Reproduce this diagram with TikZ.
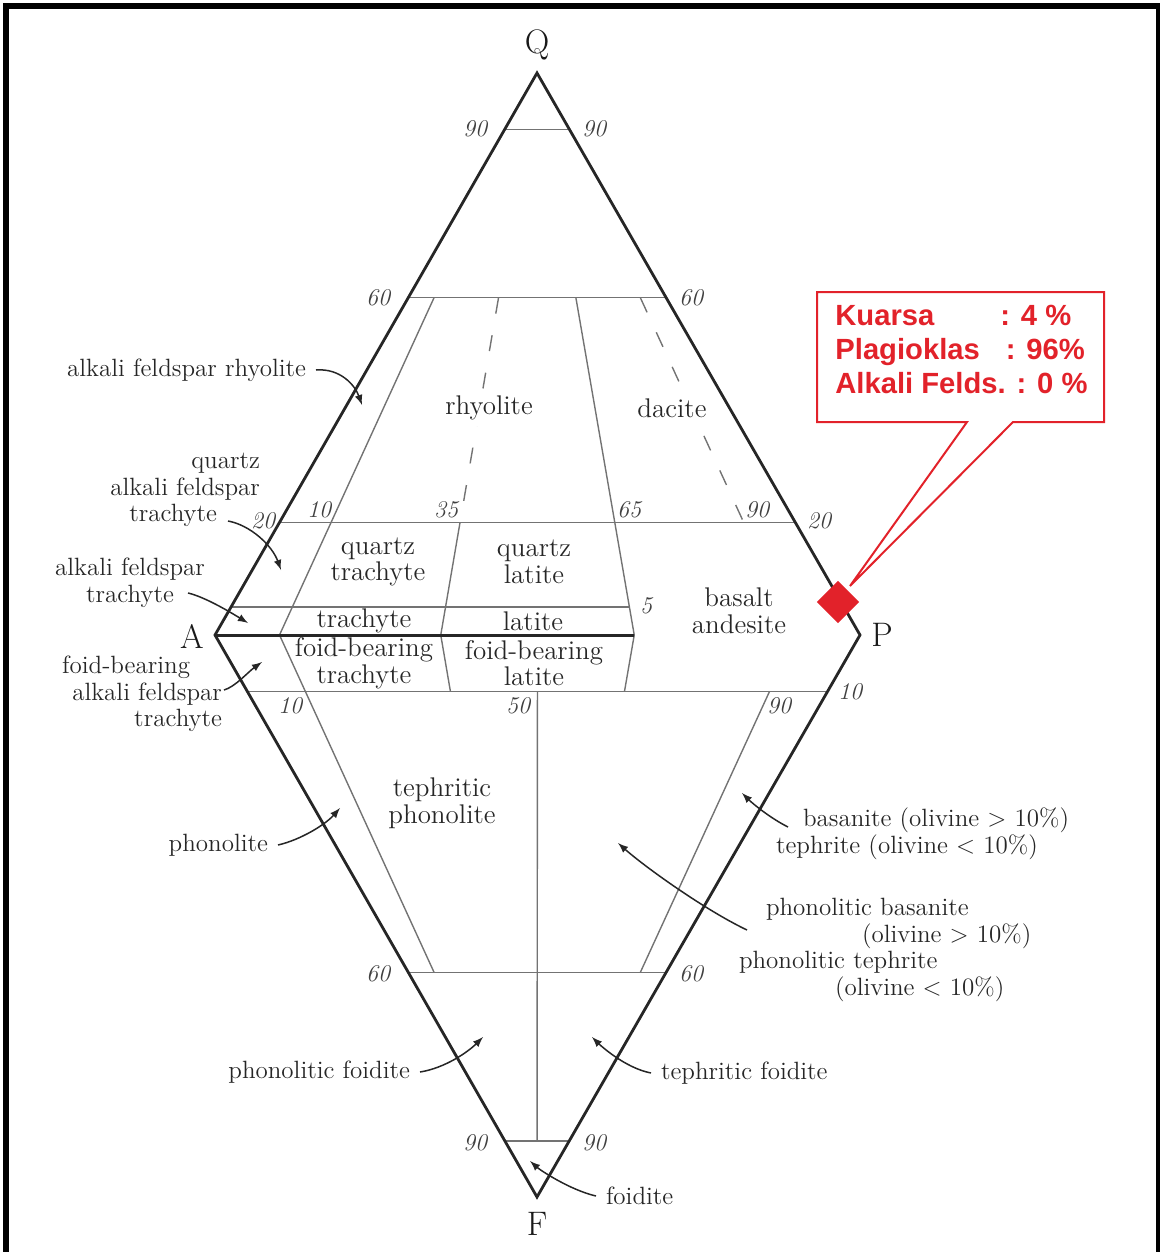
\documentclass[tikz,border=0pt]{standalone}
\usepackage{fontspec}
\newfontfamily\boxfont{Liberation Sans}
\usetikzlibrary{calc}
\tikzset{>=latex}
\definecolor{callred}{RGB}{226,34,42}
\tikzset{
  outline/.style = {line width=1.4pt, black!85, line join=miter},
  field/.style = {line width=0.7pt, black!55},
  split/.style = {field, dash pattern=on 8pt off 11pt},
  tick/.style = {font=\fontsize{12}{12}\selectfont\itshape, text=black!75, inner sep=0pt},
  rock/.style = {font=\fontsize{13.5}{13.3}\selectfont, text=black!85, align=center, inner sep=0pt},
  rockname/.style = {font=\fontsize{12.5}{13.3}\selectfont, text=black!85, inner sep=0pt, outer sep=5pt},
  pointer/.style = {->, line width=0.75pt, black!85},
  corner/.style = {font=\fontsize{17}{17}\selectfont, text=black!90},
  callout/.style = {draw=callred, line width=1pt}
}

\begin{document}
\begin{tikzpicture}[x=0.5pt,y=-0.5pt]
  \useasboundingbox (0,0) rectangle (1160,1252);
  \draw[line width=3pt] (6,1252) -- (6,6.5) -- (1158.5,6.5) -- (1158.5,1252);

  \coordinate (Q) at (537,73);
  \coordinate (A) at (215,635);
  \coordinate (P) at (860,635);
  \coordinate (F) at (537,1197);
  \foreach \r/\f in {10/0.10,35/0.35,50/0.50,65/0.65,90/0.90}
    \coordinate (b\r) at ($(A)!\f!(P)$);

  \foreach \f in {0.9,0.6,0.2}
    \draw[field] ($(A)!\f!(Q)$) -- ($(P)!\f!(Q)$);
  \foreach \f in {0.1,0.6,0.9}
    \draw[field] ($(A)!\f!(F)$) -- ($(P)!\f!(F)$);
  \draw[field] ($(A)!0.05!(Q)$) -- ($(b65)!0.05!(Q)$);

  \draw[field] ($(b10)!0.6!(Q)$) -- (b10) -- ($(b10)!0.6!(F)$);
  \draw[split] ($(b35)!0.6!(Q)$) -- ($(b35)!0.2!(Q)$);
  \draw[field] ($(b35)!0.2!(Q)$) -- (b35) -- ($(b35)!0.1!(F)$);
  \draw[field] ($(b65)!0.6!(Q)$) -- (b65) -- ($(b65)!0.1!(F)$);
  \draw[split] ($(b90)!0.6!(Q)$) -- ($(b90)!0.2!(Q)$);
  \draw[field] ($(b90)!0.1!(F)$) -- ($(b90)!0.6!(F)$);
  \draw[field] ($(b50)!0.1!(F)$) -- ($(b50)!0.9!(F)$);
  \draw[line width=1.5pt, black!85] (A) -- (b65);
  \draw[outline] (Q) -- (A) -- (F) -- (P) -- cycle;

  \foreach \x/\y/\t [count=\i] in {475/129/90, 594/129/90, 378/298/60, 691/298/60,
      263/521/20, 819/521/20, 319/510/10, 446/510/35, 629/510/65, 757/510/90,
      646/606/5, 290/706/10, 518/706/50, 779/706/90, 850/692/10,
      378/974/60, 691/974/60, 475/1143/90, 594/1143/90}
    \node[tick] (tick\i) at (\x,\y) {\t};

  \node[corner] (labQ) at (537,45) {Q};
  \node[corner] (labA) at (192,636) {A};
  \node[corner] (labP) at (882,635) {P};
  \node[corner] (labF) at (537,1224) {F};

  \node[rock, fill=white, inner sep=3pt] (rhyolite) at (489,408) {rhyolite};
  \node[rock, fill=white, inner sep=3pt] (dacite) at (672,408) {dacite};
  \node[rock] (qtrachyte) at (378,562) {quartz\\trachyte};
  \node[rock] (qlatite) at (534,562) {quartz\\latite};
  \node[rock] (trachyte) at (364,621) {trachyte};
  \node[rock] (latite) at (533,621) {latite};
  \node[rock] (basand) at (739,611) {basalt\\andesite};
  \node[rock] (ftrachyte) at (364,663) {foid-bearing\\trachyte};
  \node[rock] (flatite) at (534,663) {foid-bearing\\latite};
  \node[rock] (tphonolite) at (442,803) {tephritic\\phonolite};

  \node[rockname, anchor=east] (afrhyolite) at (316,370) {alkali feldspar rhyolite};
  \node[rockname, anchor=east, align=right] (qaftrachyte) at (270,490)
    {quartz\\alkali feldspar\hspace*{8.5pt}\\trachyte\hspace*{21.5pt}};
  \node[rockname, align=center] (aftrachyte) at (130,583) {alkali feldspar\\trachyte};
  \node[rockname, anchor=east, align=right] (faftrachyte) at (232,694)
    {foid-bearing\hspace*{16pt}\\alkali feldspar\\trachyte};
  \node[rockname, anchor=east] (phonolite) at (278,845) {phonolite};
  \node[rockname, anchor=east] (pfoidite) at (420,1072) {phonolitic foidite};
  \node[rockname, anchor=west, align=left] (basanite) at (766,834)
    {\hspace*{13.5pt}basanite (olivine > 10\%)\\tephrite (olivine < 10\%)};
  \node[rockname, anchor=west, align=left] (pbasanite) at (729,950)
    {\hspace*{13.5pt}phonolitic basanite\\\hspace*{61.5pt}(olivine > 10\%)\\phonolitic tephrite\\\hspace*{48pt}(olivine < 10\%)};
  \node[rockname, anchor=west] (tfoidite) at (651,1073) {tephritic foidite};
  \node[rockname, anchor=west] (foidite) at (596,1196) {foidite};

  \coordinate (afrhyolite-tip) at (362,405);
  \coordinate (qaftrachyte-tip) at (281,570);
  \coordinate (aftrachyte-tip) at (248,623);
  \coordinate (faftrachyte-tip) at (262,662);
  \coordinate (phonolite-tip) at (340,808);
  \coordinate (pfoidite-tip) at (483,1037);
  \coordinate (basanite-tip) at (742,793);
  \coordinate (pbasanite-tip) at (618,843);
  \coordinate (tfoidite-tip) at (592,1037);
  \coordinate (foidite-tip) at (530,1161);

  \draw[pointer] (afrhyolite.east) .. controls (340,368) and (355,385) .. (afrhyolite-tip);
  \draw[pointer] ($(qaftrachyte.east)+(-42,31)$) .. controls (250,525) and (272,545) .. (qaftrachyte-tip);
  \draw[pointer] ($(aftrachyte.center)+(58,10)$) .. controls (205,597) and (230,612) .. (aftrachyte-tip);
  \draw[pointer] ($(faftrachyte.east)+(-8,-4)$) .. controls (235,687) and (248,672) .. (faftrachyte-tip);
  \draw[pointer] (phonolite.east) .. controls (300,840) and (325,825) .. (phonolite-tip);
  \draw[pointer] (pfoidite.east) .. controls (445,1068) and (468,1052) .. (pfoidite-tip);
  \draw[pointer] ($(basanite.west)+(22,-7)$) .. controls (770,818) and (752,803) .. (basanite-tip);
  \draw[pointer] ($(pbasanite.west)+(18,-20)$) .. controls (705,910) and (645,867) .. (pbasanite-tip);
  \draw[pointer] (tfoidite.west) .. controls (625,1068) and (600,1045) .. (tfoidite-tip);
  \draw[pointer] (foidite.west) .. controls (570,1190) and (540,1170) .. (foidite-tip);

  \coordinate (box-nw) at (817,292);
  \coordinate (box-se) at (1104,422);
  \coordinate (tail-l) at (967,422);
  \coordinate (tail-r) at (1013,422);
  \coordinate (tail-tip) at (850,586);
  \draw[callout] (tail-l) -- (box-nw |- box-se) -- (box-nw) -| (box-se) -- (tail-r) -- (tail-tip) -- cycle;
  \node[fill=callred, rotate=45, minimum size=15pt, inner sep=0pt] (sample) at (838,602) {};
  \node[anchor=north west, inner sep=0pt, align=left, text=callred,
    font=\boxfont\bfseries\fontsize{14.6}{17}\selectfont] (readout) at (835,305)
    {Kuarsa\hspace{33pt}: 4 \%\\Plagioklas\hspace{13pt}: 96\%\\Alkali Felds. : 0 \%};
\end{tikzpicture}
\end{document}
